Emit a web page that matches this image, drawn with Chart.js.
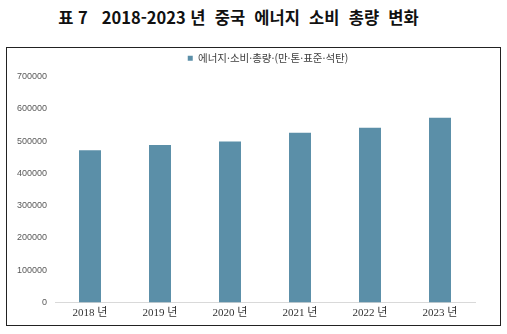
<!DOCTYPE html>
<html lang="ko">
<head>
<meta charset="utf-8">
<script src="https://cdn.jsdelivr.net/npm/chart.js@4"></script>
<style>
    html, body { margin: 0; padding: 0; background: #fff; }
    body { width: 507px; height: 334px; position: relative; overflow: hidden; }
    #title {
        position: absolute; left: 0; top: 5px; width: 477px; text-align: center;
        font: bold 16.5px "Noto Sans CJK KR", "Noto Sans", sans-serif; color: #111;
        white-space: pre;
    }
    #frame {
        position: absolute; left: 6px; top: 47px; width: 493px; height: 277px;
        border: 1.5px solid #222;
    }
    #chart-wrap { position: absolute; left: 0; top: 0; width: 493px; height: 277px; }
</style>
</head>
<body>
<div id="title">표 7   2018-2023 년  중국  에너지  소비  총량  변화</div>
<div id="frame">
    <div id="chart-wrap"><canvas id="energyChart"></canvas></div>
</div>
<script>
document.addEventListener("DOMContentLoaded", () => {
    // Total energy use per year, 10k tonnes of standard coal
    const years = ["2018 년", "2019 년", "2020 년", "2021 년", "2022 년", "2023 년"];
    const totals = [471925, 487488, 498314, 525896, 541000, 572000];
    const seriesName = "에너지·소비·총량·(만·톤·표준·석탄)";
    const yTicks = [0, 100000, 200000, 300000, 400000, 500000, 600000, 700000];

    const barColor = "#5b8fa8";

    // fixed legend band height, and nudge the legend to the right of centre
    const legendTweak = {
        id: "legendTweak",
        beforeInit(chart) {
            const fit = chart.legend.fit;
            chart.legend.fit = function () {
                fit.call(this);
                this.height = 28.5;
            };
        },
        afterLayout(chart) {
            chart.legend.left += 27;
            chart.legend.right += 27;
        }
    };

    new Chart(document.getElementById("energyChart").getContext("2d"), {
        type: "bar",
        data: {
            labels: years,
            datasets: [{
                label: seriesName,
                data: totals,
                backgroundColor: barColor,
                borderWidth: 0,
                categoryPercentage: 1,
                barPercentage: 0.314
            }]
        },
        options: {
            responsive: true,
            maintainAspectRatio: false,
            animation: false,
            layout: { padding: { left: 0, right: 25, top: 0, bottom: 0 } },
            plugins: {
                legend: {
                    position: "top",
                    labels: {
                        boxWidth: 5,
                        boxHeight: 5,
                        padding: 5,
                        color: "#404040",
                        font: { size: 10.5, family: "'Noto Sans CJK KR', sans-serif" }
                    }
                },
                tooltip: { enabled: false }
            },
            scales: {
                x: {
                    grid: { display: false, drawTicks: false },
                    border: { display: true, color: "#d9d9d9", width: 1 },
                    ticks: {
                        color: "#333",
                        padding: 4,
                        font: { size: 11, family: "'Liberation Serif', 'Noto Sans CJK KR', serif" }
                    },
                    afterFit: scale => { scale.height = 22.5; }
                },
                y: {
                    min: 0,
                    max: 700000,
                    grid: { display: false, drawTicks: false },
                    border: { display: false },
                    afterBuildTicks: scale => { scale.ticks = yTicks.map(v => ({ value: v })); },
                    ticks: {
                        color: "#595959",
                        padding: 8,
                        font: { size: 9, family: "'Liberation Sans', sans-serif" },
                        callback: v => String(v)
                    },
                    afterFit: scale => { scale.width = 48; }
                }
            }
        },
        plugins: [legendTweak]
    });
});
</script>
</body>
</html>
